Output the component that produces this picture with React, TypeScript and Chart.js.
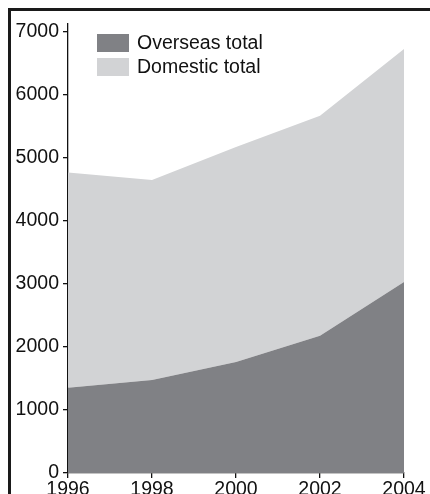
import React, { useEffect, useRef } from 'react';
import { Chart, registerables } from 'chart.js';

Chart.register(...registerables);

const years = ['1996', '1998', '2000', '2002', '2004'];
const overseasTotal = [1355, 1475, 1760, 2180, 3030];
const domesticTotal = [3415, 3175, 3415, 3490, 3700];
const yTickValues = [0, 1000, 2000, 3000, 4000, 5000, 6000, 7000];

const FONT = '"Liberation Sans", Arial, Helvetica, sans-serif';
const DARK = '#808185';
const LIGHT = '#d2d3d5';

const legendPlugin = {
  id: 'insideLegend',
  afterDraw(chart: any) {
    const ctx = chart.ctx;
    ctx.save();
    const boxX = 97;
    const boxW = 32;
    const boxH = 18;
    const rowTop = [34, 58];
    chart.data.datasets.forEach((ds: any, i: number) => {
      const top = rowTop[i];
      ctx.fillStyle = ds.backgroundColor;
      ctx.fillRect(boxX, top, boxW, boxH);
      ctx.fillStyle = '#111';
      ctx.font = `19.5px ${FONT}`;
      ctx.textAlign = 'left';
      ctx.textBaseline = 'alphabetic';
      ctx.fillText(ds.label, boxX + boxW + 8, top + 15);
    });
    ctx.restore();
  },
};

export default function App() {
  const ref = useRef<HTMLCanvasElement | null>(null);

  useEffect(() => {
    if (!ref.current) return;
    const chart = new Chart(ref.current, {
      type: 'line',
      data: {
        labels: years,
        datasets: [
          {
            label: 'Overseas total',
            data: overseasTotal,
            backgroundColor: DARK,
            borderWidth: 0,
            pointRadius: 0,
            fill: 'origin',
            tension: 0,
          },
          {
            label: 'Domestic total',
            data: domesticTotal,
            backgroundColor: LIGHT,
            borderWidth: 0,
            pointRadius: 0,
            fill: '-1',
            tension: 0,
          },
        ],
      },
      options: {
        animation: false,
        responsive: false,
        devicePixelRatio: 1,
        layout: { padding: { left: 8, top: 24, right: 26, bottom: 0 } },
        plugins: {
          legend: { display: false },
          tooltip: { enabled: false },
        },
        scales: {
          x: {
            type: 'category',
            offset: false,
            grid: {
              drawOnChartArea: false,
              drawTicks: true,
              tickLength: 5,
              color: '#111',
              lineWidth: 1.3,
            },
            border: { display: true, color: '#111', width: 1.3 },
            ticks: {
              color: '#111',
              font: { family: FONT, size: 19.5 },
              padding: 0,
              maxRotation: 0,
              autoSkip: false,
            },
            afterFit(scale: any) {
              scale.height = 21;
            },
          },
          y: {
            stacked: true,
            min: 0,
            max: 7127,
            afterBuildTicks(scale: any) {
              scale.ticks = yTickValues.map((v) => ({ value: v }));
            },
            grid: {
              drawOnChartArea: false,
              drawTicks: true,
              tickLength: 5,
              color: '#111',
              lineWidth: 1.3,
            },
            border: { display: true, color: '#111', width: 1.3 },
            ticks: {
              color: '#111',
              font: { family: FONT, size: 19.5 },
              padding: 4,
              callback: (v: any) => String(v),
            },
            afterFit(scale: any) {
              scale.width = 60;
            },
          },
        },
      },
      plugins: [legendPlugin],
    });
    return () => chart.destroy();
  }, []);

  return (
    <div
      style={{
        position: 'fixed',
        left: 0,
        top: 0,
        width: 430,
        height: 494,
        overflow: 'hidden',
        background: '#fff',
      }}
    >
      <div
        style={{
          position: 'absolute',
          left: 8,
          top: 8,
          width: 500,
          height: 600,
          border: '3px solid #1a1a1a',
        }}
      />
      <canvas
        ref={ref}
        width={430}
        height={494}
        style={{ position: 'absolute', left: 0, top: 0, width: 430, height: 494 }}
      />
    </div>
  );
}
